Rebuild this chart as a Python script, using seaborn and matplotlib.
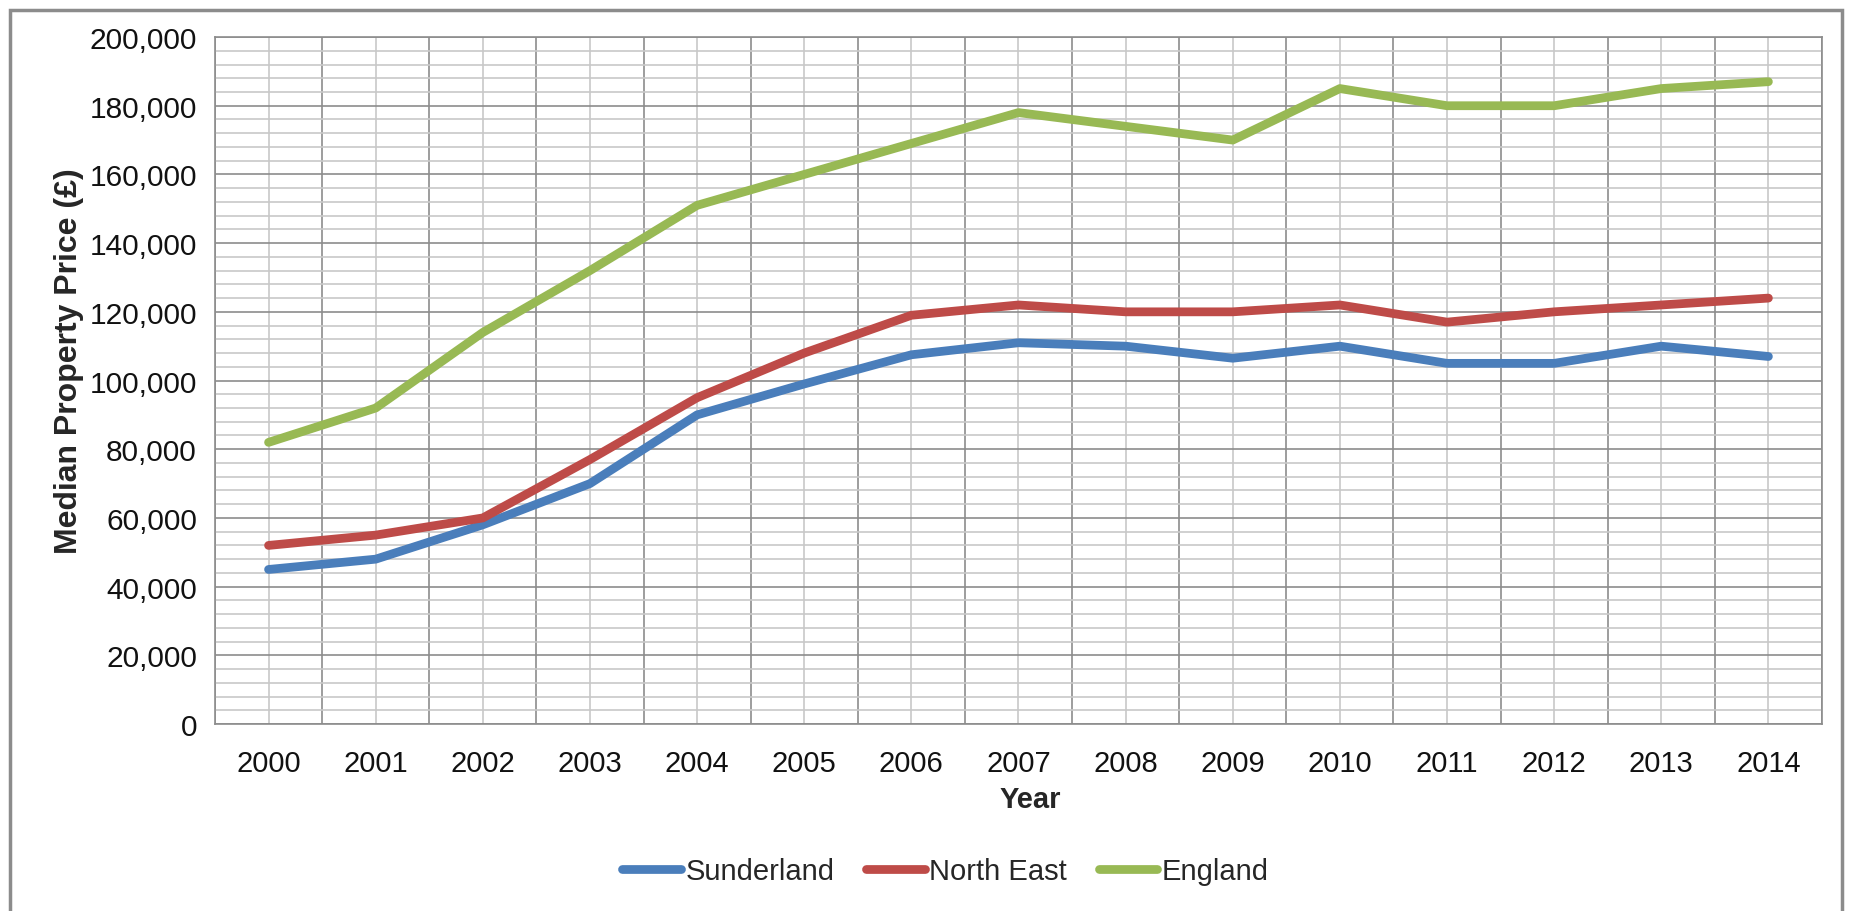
import matplotlib
matplotlib.use("Agg")
import matplotlib.pyplot as plt
import pandas as pd
import seaborn as sns
from matplotlib.patches import Rectangle
from matplotlib.ticker import FuncFormatter, FixedLocator

years = list(range(2000, 2015))
sunderland = [45000, 48000, 58000, 70000, 90000, 99000, 107500, 111000, 110000, 106500, 110000, 105000, 105000, 110000, 107000]
north_east = [52000, 55000, 60000, 77000, 95000, 108000, 119000, 122000, 120000, 120000, 122000, 117000, 120000, 122000, 124000]
england = [82000, 92000, 114000, 132000, 151000, 160000, 169000, 178000, 174000, 170000, 185000, 180000, 180000, 185000, 187000]
series = ["Sunderland", "North East", "England"]
colors = ["#4A7EBB", "#BE4B48", "#98B954"]


def main():
    sns.set_style("white")
    plt.rcParams["font.family"] = ["Liberation Sans", "DejaVu Sans"]

    data = pd.DataFrame({
        "Year": years * 3,
        "Price": sunderland + north_east + england,
        "Area": [s for s in series for _ in years],
    })

    fig = plt.figure(figsize=(18.76, 9.12), dpi=100)
    ax = fig.add_axes([0.1146, 0.2050, 0.8566, 0.7533])

    sns.lineplot(data, x="Year", y="Price", hue="Area", hue_order=series,
                 palette=colors, linewidth=6.3, ax=ax, zorder=3)
    for line in ax.get_lines():
        line.set_solid_capstyle("round")
        line.set_solid_joinstyle("round")

    ax.set_xlim(1999.5, 2014.5)
    ax.set_ylim(0, 200000)

    # x: boundaries are major (dark grid + tick marks), years are minor (labels)
    ax.xaxis.set_major_locator(FixedLocator([y - 0.5 for y in years] + [2014.5]))
    ax.xaxis.set_minor_locator(FixedLocator(years))
    ax.xaxis.set_major_formatter(FuncFormatter(lambda v, p: ""))
    ax.xaxis.set_minor_formatter(FuncFormatter(lambda v, p: f"{int(round(v))}"))
    ax.tick_params(axis="x", which="major", length=10, width=1.2, color="#888888", direction="out")
    ax.tick_params(axis="x", which="minor", length=0, labelsize=21, pad=18, labelcolor="#111111")

    ax.yaxis.set_major_locator(FixedLocator(range(0, 200001, 20000)))
    ax.yaxis.set_minor_locator(FixedLocator(range(0, 200001, 4000)))
    ax.yaxis.set_major_formatter(FuncFormatter(lambda v, p: f"{int(v):,}"))
    ax.tick_params(axis="y", which="major", length=8, width=1.2, color="#888888",
                   direction="out", labelsize=21.5, pad=5, labelcolor="#111111")
    ax.tick_params(axis="y", which="minor", length=0)

    ax.grid(which="major", color="#8c8c8c", linewidth=1.2, zorder=0)
    ax.grid(which="minor", color="#c8c8c8", linewidth=1.2, zorder=0)
    ax.set_axisbelow(True)
    for s in ax.spines.values():
        s.set_color("#8c8c8c")
        s.set_linewidth(1.2)

    ax.set_xlabel("")
    ax.set_ylabel("")
    fig.text(0.549, 0.123, "Year", ha="center", va="center", fontsize=21, fontweight="bold")
    fig.text(0.037, 0.604, "Median Property Price (£)", ha="center", va="center",
             rotation=90, fontsize=23, fontweight="bold")

    handles, labels = ax.get_legend_handles_labels()
    ax.get_legend().remove()
    fig.legend(handles, labels, loc="center", bbox_to_anchor=(0.504, 0.044), ncol=3,
               frameon=False, fontsize=21, handlelength=2.0, handletextpad=0.15,
               columnspacing=1.1)

    fig.patches.append(Rectangle((0.0053, -0.05), 0.9765, 1.0384, transform=fig.transFigure,
                                 fill=False, edgecolor="#8c8c8c", linewidth=2.5))

    plt.savefig("out.png", dpi=100)


if __name__ == "__main__":
    main()
